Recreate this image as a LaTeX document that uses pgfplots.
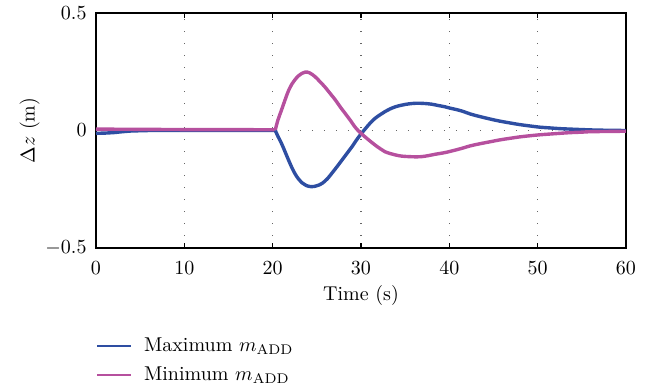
\documentclass[border=0pt]{standalone}
\usepackage{pgfplots}
\usepackage{pgfplotstable}
\pgfplotsset{compat=1.18}
\definecolor{maxblue}{RGB}{46,78,162}
\definecolor{minmag}{RGB}{182,80,158}

\pgfplotstableread{
t z
0 -0.012
1 -0.011
2 -0.009
3 -0.005
4 -0.002
6 0
20.3 0
}\maxflat

\pgfplotstableread{
t z
20.3 0
20.6 -0.025
21.0 -0.055
21.4 -0.09
21.8 -0.126
22.2 -0.16
22.5 -0.182
22.9 -0.205
23.3 -0.222
23.8 -0.234
24.4 -0.239
25.0 -0.235
25.6 -0.225
26.2 -0.205
26.7 -0.182
27.2 -0.158
27.8 -0.128
28.4 -0.098
29.0 -0.068
29.5 -0.040
30.0 -0.015
30.5 0.008
31.0 0.030
31.6 0.052
32.2 0.068
32.7 0.080
33.3 0.092
33.9 0.101
34.5 0.107
35.0 0.111
35.8 0.115
36.5 0.116
37.2 0.115
38.0 0.112
38.8 0.106
39.5 0.101
40.1 0.095
40.7 0.090
41.5 0.082
42.4 0.070
43.5 0.059
44.6 0.049
45.7 0.040
46.9 0.032
48.0 0.025
49.2 0.019
50.3 0.014
51.4 0.011
52.5 0.008
53.7 0.006
55.0 0.004
56.5 0.002
58 0.001
60 0
}\maxdata

\pgfplotstableread{
t z
0 0.006
5 0.005
10 0.004
15 0.004
20.3 0.003
}\minflat

\pgfplotstableread{
t z
20.3 0.003
20.6 0.045
21.0 0.087
21.4 0.130
21.8 0.170
22.2 0.199
22.5 0.215
22.9 0.232
23.3 0.243
23.7 0.249
24.2 0.245
24.8 0.229
25.3 0.210
25.9 0.186
26.5 0.158
27.1 0.130
27.6 0.103
28.2 0.073
28.8 0.043
29.3 0.016
29.8 -0.005
30.3 -0.022
30.9 -0.041
31.6 -0.062
32.2 -0.078
32.7 -0.090
33.3 -0.098
33.9 -0.104
34.6 -0.109
35.4 -0.111
36.2 -0.112
36.9 -0.111
37.6 -0.107
38.4 -0.101
39.5 -0.094
40.7 -0.083
41.5 -0.075
42.4 -0.065
43.5 -0.056
44.6 -0.048
45.7 -0.040
46.9 -0.033
48.0 -0.027
49.2 -0.022
50.3 -0.018
51.4 -0.015
52.5 -0.012
53.7 -0.009
55 -0.007
56 -0.005
58 -0.004
60 -0.003
}\mindata

\begin{document}
\begin{tikzpicture}
\useasboundingbox (-48pt,-69.5pt) rectangle (282pt,124pt);
\begin{axis}[
  at={(0pt,0pt)}, anchor=south west,
  scale only axis,
  width=265pt, height=117.5pt,
  xmin=0, xmax=60, ymin=-0.5, ymax=0.5,
  xtick={0,10,...,60},
  ytick={-0.5,0,0.5},
  yticklabels={$-0.5$,$0$,$0.5$},
  tick align=inside,
  major tick length=2.5pt,
  axis line style={line width=0.75pt},
  tick style={line width=0.6pt, black},
  xmajorgrids, ymajorgrids,
  grid style={line width=0.7pt, black!60, dash pattern=on 0.7pt off 5.3pt},
  xticklabel style={yshift=-3.5pt},
  yticklabel style={xshift=-1.2pt},
  xlabel={Time (s)},
  ylabel={$\Delta z$ (m)},
  x label style={at={(axis description cs:0.5,-0.2)}, anchor=center},
  y label style={at={(axis description cs:-0.125,0.5)}, anchor=center, rotate=0},
  legend cell align=left,
  legend style={at={(axis description cs:0,-0.365)}, anchor=north west,
    draw=none, fill=none, inner sep=0pt, row sep=3pt,
    nodes={inner sep=1.6pt}},
  legend image code/.code={\draw[#1, line width=0.8pt] (0pt,0pt) -- (17pt,0pt); \path (21pt,0pt);},
]
\addplot[maxblue, line width=1.7pt, line join=round, forget plot] table[x=t,y=z] {\maxflat};
\addplot[minmag, line width=1.7pt, line join=round, forget plot] table[x=t,y=z] {\minflat};
\addplot[maxblue, line width=1.7pt, smooth, tension=0.6, line join=round] table[x=t,y=z] {\maxdata};
\addlegendentry{Maximum $m_{\mathrm{ADD}}$}
\addplot[minmag, line width=1.7pt, smooth, tension=0.6, line join=round] table[x=t,y=z] {\mindata};
\addlegendentry{Minimum $m_{\mathrm{ADD}}$}
\end{axis}
\end{tikzpicture}
\end{document}
